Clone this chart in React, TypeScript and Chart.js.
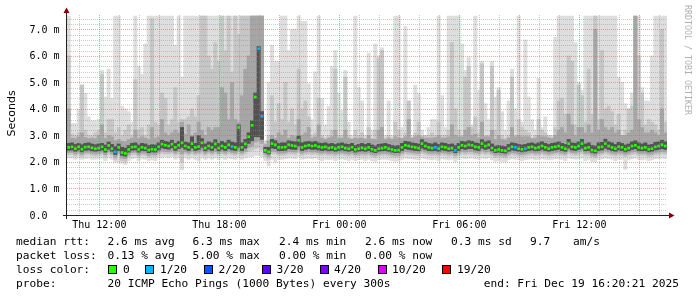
import React, { useEffect, useRef } from 'react';
import { Chart, registerables } from 'chart.js';

Chart.register(...registerables);

// ---- time axis (hours since Thu 00:00) ----
const START_HOUR = 10.383;
const SPAN_HOURS = 30;
const STEP_HOURS = 1 / 6; // one sample every 10 minutes
const Y_MAX = 7.54;

const xTickHours = [12, 18, 24, 30, 36];
const xTickLabels = ['Thu 12:00', 'Thu 18:00', 'Fri 00:00', 'Fri 06:00', 'Fri 12:00'];
const yTickValues = [0, 1, 2, 3, 4, 5, 6, 7];
const yTickLabels = ['0.0  ', '1.0 m', '2.0 m', '3.0 m', '4.0 m', '5.0 m', '6.0 m', '7.0 m'];

// ---- median rtt (ms) ----
const median = [
  2.55,2.57,2.5,2.57,2.48,2.56,2.57,2.53,2.5,2.52,2.57,2.47,2.62,2.5,2.38,2.55,2.35,2.32,2.47,2.56,2.57,2.47,2.55,2.52,2.45,2.48,2.47,2.57,2.67,2.63,2.6,2.67,2.55,2.63,2.72,2.6,
  2.55,2.69,2.55,2.58,2.72,2.52,2.6,2.55,2.68,2.52,2.6,2.55,2.65,2.58,2.55,3.3,2.55,2.68,2.95,3.38,4.45,6.27,3.72,2.44,2.38,2.69,2.65,2.55,2.55,2.56,2.65,2.62,2.6,2.82,2.55,2.6,
  2.63,2.6,2.62,2.57,2.55,2.57,2.52,2.55,2.5,2.55,2.57,2.52,2.5,2.55,2.47,2.5,2.53,2.5,2.55,2.48,2.44,2.5,2.52,2.55,2.5,2.47,2.44,2.45,2.55,2.63,2.6,2.57,2.55,2.52,2.69,2.6,
  2.55,2.52,2.55,2.5,2.57,2.55,2.5,2.52,2.44,2.55,2.63,2.6,2.65,2.63,2.57,2.55,2.69,2.6,2.65,2.52,2.44,2.47,2.44,2.42,2.5,2.57,2.55,2.5,2.48,2.5,2.55,2.57,2.52,2.55,2.6,2.55,
  2.5,2.55,2.57,2.6,2.55,2.5,2.69,2.57,2.55,2.6,2.69,2.52,2.55,2.45,2.42,2.55,2.57,2.69,2.6,2.55,2.5,2.57,2.55,2.48,2.52,2.6,2.63,2.55,2.52,2.55,2.48,2.5,2.57,2.6,2.65,2.6,
];

// samples with lost pings (index into median, lost count)
const lossIndex = [14, 49, 57, 58, 110, 116, 134, 137];
const lossCount = [1, 1, 1, 1, 1, 1, 1, 1];

// ---- smoke bands (ms) : outer (lightest) -> inner (darkest) ----
const smokeHi1 = [
  7.5,3.45,3.45,4.0,4.9,4.6,3.7,3.55,3.55,3.6,5.45,4.45,5.5,4.4,7.5,7.5,4.1,4.0,3.9,3.5,7.5,5.6,5.3,6.45,7.5,7.5,7.5,7.5,7.5,7.5,7.5,7.5,6.4,7.5,5.2,7.5,
  7.5,7.5,7.5,7.5,7.5,7.5,7.5,7.5,7.5,7.5,7.5,7.5,7.5,7.5,7.5,7.5,7.5,7.5,7.5,7.5,7.5,7.5,7.5,2.8,5.0,6.4,5.8,5.8,7.5,7.5,6.2,7.0,7.0,7.5,7.3,7.3,
  4.95,3.6,5.4,7.5,4.4,3.4,4.1,5.6,6.2,4.6,3.95,5.45,3.5,3.0,7.5,4.8,4.3,3.0,6.1,3.2,6.45,6.0,6.3,3.0,4.3,3.0,7.5,7.5,3.3,7.1,4.3,3.0,4.9,4.6,3.2,3.0,
  3.3,3.6,3.6,7.5,4.5,3.3,7.5,7.5,7.5,7.5,6.45,5.45,5.95,3.4,7.5,4.7,5.8,4.2,3.6,5.8,4.45,4.8,3.9,3.2,4.3,5.5,4.0,7.5,3.5,6.6,4.45,3.6,3.2,5.15,3.3,3.7,
  3.0,3.0,6.7,7.5,7.5,7.5,7.5,7.5,6.5,5.0,4.7,7.5,7.5,7.5,7.5,7.5,7.5,7.5,7.5,7.5,7.5,5.2,5.0,4.2,4.0,4.6,7.5,7.5,4.8,4.3,4.3,6.0,7.5,7.5,7.5,7.5,
];
const smokeLo1 = [
  2.15,2.15,2.1,2.15,2.1,2.12,2.15,2.1,2.1,2.12,2.15,2.05,2.15,2.1,2.0,1.98,1.95,1.9,2.05,2.12,2.15,2.05,2.12,2.1,2.05,2.08,2.05,2.15,2.15,2.2,2.15,2.2,2.1,2.15,1.7,2.15,
  2.1,2.15,2.1,2.05,2.15,2.1,2.15,2.1,2.15,2.1,2.15,2.1,2.15,2.12,2.1,2.15,2.1,2.15,2.2,2.2,2.25,2.25,2.2,2.05,1.85,2.1,2.0,2.1,2.1,2.12,2.15,2.15,2.12,2.2,2.1,2.12,
  2.15,2.12,2.15,2.1,2.05,2.1,2.08,2.1,2.05,2.1,2.12,2.08,2.05,2.1,2.05,2.08,2.1,2.05,2.1,2.05,2.02,2.08,2.1,2.1,2.08,2.05,2.02,2.05,2.1,2.15,2.12,2.12,2.1,2.08,2.15,2.12,
  2.1,2.08,2.1,2.05,2.12,2.1,2.08,2.1,2.02,2.1,2.15,2.12,2.15,2.15,2.12,2.1,2.15,2.12,2.15,2.08,2.02,2.05,2.02,2.0,2.08,2.12,2.1,2.08,2.05,2.08,2.1,2.12,2.08,2.1,2.12,2.1,
  2.08,2.1,2.12,2.12,2.1,2.05,2.15,2.12,2.1,2.12,2.15,2.05,2.1,2.02,2.0,2.1,2.12,2.15,2.12,2.1,2.05,2.1,2.1,1.72,2.08,2.12,2.15,2.1,2.08,2.1,2.05,2.08,2.12,2.12,2.15,2.12,
];
const smokeHi2 = [
  6.0,3.05,3.0,3.1,4.9,3.2,3.0,3.0,3.1,3.2,5.3,3.1,3.6,3.6,3.1,3.3,3.0,3.2,3.4,3.0,5.1,3.2,3.3,3.0,3.4,7.4,3.5,3.4,4.6,4.4,3.4,3.6,4.8,3.5,3.6,3.6,
  3.7,4.0,3.7,4.5,7.5,7.5,6.0,5.5,6.5,5.8,7.5,6.2,7.5,5.4,7.5,6.8,7.5,7.5,7.5,7.5,7.5,7.5,7.5,2.7,3.0,4.5,3.5,4.2,3.6,5.0,3.5,4.0,3.4,5.5,4.0,4.3,
  3.7,3.0,3.1,4.4,3.0,2.9,3.0,3.2,5.5,3.0,3.0,5.2,3.0,2.9,3.2,3.0,3.1,2.9,3.3,2.9,3.2,5.9,6.2,2.9,3.0,2.9,3.5,3.2,2.9,3.1,4.3,2.9,3.1,3.5,2.9,3.0,
  3.0,3.1,3.0,3.5,3.0,3.0,3.2,6.5,4.0,3.2,3.0,5.2,5.6,3.3,3.7,3.1,5.7,3.0,3.0,5.6,3.2,4.7,3.0,2.9,3.0,5.2,3.0,3.6,3.3,3.2,3.1,2.9,3.0,3.6,3.2,3.1,
  3.0,2.9,3.3,4.3,4.4,3.8,6.0,5.8,3.4,4.9,4.5,3.5,5.5,3.8,7.5,3.6,6.2,4.0,4.1,3.9,3.4,3.8,3.0,3.2,4.0,4.1,7.5,6.0,4.6,3.4,3.6,3.5,3.4,3.2,7.0,3.5,
];
const smokeLo2 = [
  2.27,2.28,2.22,2.28,2.2,2.27,2.28,2.24,2.22,2.24,2.28,2.19,2.3,2.22,2.08,2.25,2.05,2.02,2.18,2.27,2.28,2.18,2.25,2.24,2.17,2.2,2.19,2.28,2.33,2.3,2.3,2.33,2.25,2.3,2.0,2.3,
  2.25,2.3,2.25,2.28,2.3,2.24,2.3,2.25,2.3,2.24,2.3,2.25,2.3,2.27,2.25,2.3,2.25,2.3,2.4,2.45,2.5,2.55,2.45,2.2,2.1,2.3,2.3,2.25,2.25,2.26,2.3,2.3,2.28,2.35,2.25,2.28,
  2.3,2.28,2.3,2.27,2.25,2.27,2.24,2.25,2.22,2.25,2.27,2.24,2.22,2.25,2.19,2.22,2.24,2.22,2.25,2.2,2.17,2.22,2.24,2.25,2.22,2.19,2.17,2.18,2.25,2.3,2.28,2.27,2.25,2.24,2.32,2.28,
  2.25,2.24,2.25,2.22,2.27,2.25,2.22,2.24,2.17,2.25,2.3,2.28,2.3,2.3,2.27,2.25,2.32,2.28,2.3,2.24,2.17,2.19,2.17,2.15,2.22,2.27,2.25,2.22,2.2,2.22,2.25,2.27,2.24,2.25,2.28,2.25,
  2.22,2.25,2.27,2.28,2.25,2.22,2.32,2.27,2.25,2.28,2.32,2.24,2.25,2.18,2.15,2.25,2.27,2.32,2.28,2.25,2.22,2.27,2.25,2.2,2.24,2.28,2.3,2.25,2.24,2.25,2.2,2.22,2.27,2.28,2.3,2.28,
];
const smokeHi3 = [
  4.0,2.9,2.88,2.95,3.1,2.92,2.88,2.9,2.88,3.0,3.4,2.88,3.0,2.95,2.8,2.85,2.78,2.75,2.85,2.9,3.2,2.88,2.95,2.9,2.85,3.3,2.9,2.95,3.6,3.1,3.0,3.1,3.2,3.1,3.5,3.05,
  3.4,3.0,3.1,3.5,3.2,3.0,3.3,3.2,3.3,3.3,4.8,4.6,3.6,5.0,3.6,3.5,4.5,5.5,6.0,7.5,7.5,7.5,7.5,2.65,2.8,3.0,2.9,3.1,3.0,3.2,2.9,3.0,2.95,3.6,3.0,3.1,
  3.3,2.9,2.95,3.4,2.9,2.85,2.9,2.95,3.2,2.88,2.9,3.2,2.88,2.85,2.9,2.88,2.9,2.85,3.0,2.85,2.85,3.2,3.3,2.85,2.9,2.85,2.95,2.9,2.88,2.95,3.6,2.9,2.95,3.0,2.95,2.9,
  2.9,2.9,2.92,3.0,2.9,2.9,2.95,3.4,3.0,2.95,2.95,3.2,3.3,3.0,3.05,2.9,3.5,2.95,2.95,3.2,2.85,3.0,2.85,2.82,2.9,3.3,2.95,3.0,2.95,2.95,2.95,2.88,2.9,3.0,2.95,2.95,
  2.9,2.9,3.0,3.2,3.3,3.1,3.8,3.4,3.0,3.3,3.3,3.1,3.4,3.1,7.0,3.2,3.6,3.3,3.2,3.3,3.1,3.2,3.0,3.0,3.1,3.2,7.5,3.6,3.3,3.1,3.1,3.2,3.1,3.0,4.0,3.1,
];
const smokeLo3 = [
  2.35,2.36,2.3,2.36,2.28,2.35,2.36,2.32,2.3,2.32,2.36,2.27,2.38,2.3,2.18,2.33,2.15,2.12,2.27,2.35,2.36,2.27,2.33,2.32,2.25,2.28,2.27,2.36,2.42,2.4,2.38,2.42,2.33,2.4,2.3,2.38,
  2.33,2.4,2.33,2.36,2.42,2.32,2.38,2.33,2.4,2.32,2.38,2.33,2.4,2.35,2.33,2.4,2.33,2.4,2.55,2.6,2.75,2.8,2.7,2.28,2.2,2.4,2.4,2.33,2.33,2.34,2.4,2.38,2.37,2.45,2.33,2.37,
  2.4,2.37,2.38,2.35,2.33,2.35,2.32,2.33,2.3,2.33,2.35,2.32,2.3,2.33,2.27,2.3,2.32,2.3,2.33,2.28,2.25,2.3,2.32,2.33,2.3,2.27,2.25,2.26,2.33,2.4,2.37,2.35,2.33,2.32,2.42,2.37,
  2.33,2.32,2.33,2.3,2.35,2.33,2.3,2.32,2.25,2.33,2.4,2.37,2.4,2.4,2.35,2.33,2.42,2.37,2.4,2.32,2.25,2.27,2.25,2.23,2.3,2.35,2.33,2.3,2.28,2.3,2.33,2.35,2.32,2.33,2.37,2.33,
  2.3,2.33,2.35,2.37,2.33,2.3,2.42,2.35,2.33,2.37,2.42,2.32,2.33,2.26,2.23,2.33,2.35,2.42,2.37,2.33,2.3,2.35,2.33,2.28,2.32,2.37,2.4,2.33,2.32,2.33,2.28,2.3,2.35,2.37,2.4,2.37,
];
const smokeHi4 = [
  2.7,2.72,2.66,2.7,2.65,2.7,2.72,2.68,2.65,2.68,2.7,2.64,2.75,2.66,2.58,2.68,2.55,2.52,2.62,2.7,2.72,2.64,2.7,2.68,2.62,2.65,2.64,2.72,2.82,2.78,2.75,2.82,2.7,2.78,3.3,2.75,
  2.72,2.95,2.7,3.0,2.88,2.68,2.76,2.72,2.84,2.7,2.78,2.72,2.82,2.75,2.72,3.4,2.72,2.85,3.1,3.55,4.6,6.35,3.9,2.55,2.55,2.85,2.8,2.7,2.72,2.72,2.8,2.78,2.76,2.98,2.72,2.76,
  2.78,2.75,2.78,2.72,2.7,2.72,2.68,2.7,2.66,2.7,2.72,2.68,2.66,2.7,2.62,2.66,2.7,2.66,2.7,2.64,2.6,2.66,2.68,2.7,2.66,2.62,2.6,2.62,2.7,2.78,2.76,2.72,2.7,2.68,2.84,2.75,
  2.7,2.68,2.72,2.66,2.72,2.7,2.66,2.68,2.62,2.7,2.78,2.76,2.8,2.78,2.72,2.7,2.84,2.76,2.8,2.68,2.6,2.62,2.6,2.58,2.66,2.72,2.7,2.66,2.64,2.66,2.7,2.72,2.68,2.72,2.76,2.7,
  2.66,2.7,2.72,2.76,2.7,2.66,2.85,2.72,2.7,2.76,2.85,2.68,2.72,2.62,2.6,2.72,2.74,2.86,2.76,2.72,2.66,2.74,2.7,2.64,2.68,2.76,2.8,2.72,2.68,2.72,2.64,2.66,2.74,2.76,2.82,2.76,
];
const smokeLo4 = [
  2.44,2.45,2.4,2.45,2.38,2.44,2.45,2.42,2.4,2.42,2.45,2.37,2.48,2.4,2.28,2.43,2.25,2.22,2.37,2.44,2.45,2.37,2.43,2.42,2.35,2.38,2.37,2.45,2.53,2.5,2.48,2.53,2.43,2.5,2.55,2.48,
  2.43,2.52,2.43,2.46,2.55,2.42,2.48,2.43,2.52,2.42,2.48,2.43,2.5,2.45,2.43,2.55,2.43,2.52,2.7,2.8,2.95,2.95,2.85,2.36,2.3,2.52,2.5,2.43,2.43,2.44,2.5,2.48,2.47,2.6,2.43,2.47,
  2.5,2.47,2.48,2.45,2.43,2.45,2.42,2.43,2.4,2.43,2.45,2.42,2.4,2.43,2.37,2.4,2.42,2.4,2.43,2.38,2.35,2.4,2.42,2.43,2.4,2.37,2.35,2.36,2.43,2.5,2.47,2.45,2.43,2.42,2.52,2.47,
  2.43,2.42,2.43,2.4,2.45,2.43,2.4,2.42,2.35,2.43,2.5,2.47,2.5,2.5,2.45,2.43,2.52,2.47,2.5,2.42,2.35,2.37,2.35,2.33,2.4,2.45,2.43,2.4,2.38,2.4,2.43,2.45,2.42,2.43,2.47,2.43,
  2.4,2.43,2.45,2.47,2.43,2.4,2.52,2.45,2.43,2.47,2.52,2.42,2.43,2.36,2.33,2.43,2.45,2.52,2.47,2.43,2.4,2.45,2.43,2.38,2.42,2.47,2.5,2.43,2.42,2.43,2.38,2.4,2.45,2.47,2.5,2.47,
];

const smokeColors = ['#dedede', '#c6c6c6', '#a6a6a6', '#525252'];

// ---- legend ----
const lossLabels = ['0', '1/20', '2/20', '3/20', '4/20', '10/20', '19/20'];
const lossColors = ['#26ff00', '#00b8ff', '#0059ff', '#5e00ff', '#7e00ff', '#dd00ff', '#ff0000'];
const rttStats = ['2.6 ms avg', '6.3 ms max', '2.4 ms min', '2.6 ms now', '0.3 ms sd', '9.7', 'am/s'];
const lossStats = ['0.13 % avg', '5.00 % max', '0.00 % min', '0.00 % now'];
const probeText = '20 ICMP Echo Pings (1000 Bytes) every 300s';
const endText = 'end: Fri Dec 19 16:20:21 2025';

const MONO = '"DejaVu Sans Mono", monospace';

const decorPlugin = {
  id: 'smokeDecor',
  afterDatasetsDraw(chart: any) {
    const { ctx, chartArea: a, scales } = chart;
    const x = scales.x;
    const y = scales.y;
    ctx.save();
    ctx.lineWidth = 1;
    ctx.setLineDash([1, 1]);
    // horizontal grid every 0.2 ms, major every 1 ms
    for (let k = 1; k * 0.2 < Y_MAX; k++) {
      const py = Math.round(y.getPixelForValue(k * 0.2)) + 0.5;
      ctx.strokeStyle = k % 5 === 0 ? 'rgba(215,95,95,0.55)' : 'rgba(140,140,140,0.45)';
      ctx.beginPath();
      ctx.moveTo(a.left, py);
      ctx.lineTo(a.right, py);
      ctx.stroke();
    }
    // vertical grid every hour, major every 3 hours
    for (let h = Math.ceil(START_HOUR); h < START_HOUR + SPAN_HOURS; h++) {
      const px = Math.round(x.getPixelForValue(h)) + 0.5;
      ctx.strokeStyle = h % 3 === 0 ? 'rgba(215,95,95,0.55)' : 'rgba(140,140,140,0.45)';
      ctx.beginPath();
      ctx.moveTo(px, a.top);
      ctx.lineTo(px, a.bottom);
      ctx.stroke();
    }
    ctx.setLineDash([]);
    // axes
    ctx.strokeStyle = '#222';
    ctx.beginPath();
    ctx.moveTo(a.left - 4, a.bottom + 0.5);
    ctx.lineTo(a.right + 4, a.bottom + 0.5);
    ctx.moveTo(a.left - 0.5, a.bottom + 4);
    ctx.lineTo(a.left - 0.5, a.top - 4);
    ctx.stroke();
    // arrows
    ctx.fillStyle = '#7f0000';
    ctx.beginPath();
    ctx.moveTo(a.right + 2, a.bottom - 2.5);
    ctx.lineTo(a.right + 2, a.bottom + 3.5);
    ctx.lineTo(a.right + 7.5, a.bottom + 0.5);
    ctx.closePath();
    ctx.fill();
    ctx.beginPath();
    ctx.moveTo(a.left - 3.5, a.top - 2);
    ctx.lineTo(a.left + 2.5, a.top - 2);
    ctx.lineTo(a.left - 0.5, a.top - 7.5);
    ctx.closePath();
    ctx.fill();
    ctx.restore();
  },
  afterDraw(chart: any) {
    const { ctx, chartArea: a, scales } = chart;
    const x = scales.x;
    const y = scales.y;
    ctx.save();
    ctx.fillStyle = '#000';
    ctx.textBaseline = 'alphabetic';
    // axis labels
    ctx.font = `10px ${MONO}`;
    ctx.textAlign = 'center';
    xTickHours.forEach((h, i) => ctx.fillText(xTickLabels[i], x.getPixelForValue(h), a.bottom + 13));
    ctx.textAlign = 'right';
    yTickValues.forEach((v, i) => ctx.fillText(yTickLabels[i], a.left - 7.5, y.getPixelForValue(v) + 3.5));
    // y title
    ctx.save();
    ctx.font = '11px "DejaVu Sans", sans-serif';
    ctx.textAlign = 'center';
    ctx.translate(15, 113.5);
    ctx.rotate(-Math.PI / 2);
    ctx.fillText('Seconds', 0, 0);
    ctx.restore();
    // watermark
    ctx.save();
    ctx.font = `8.3px ${MONO}`;
    ctx.fillStyle = '#b0b0b0';
    ctx.textAlign = 'left';
    ctx.translate(685, 5);
    ctx.rotate(Math.PI / 2);
    ctx.fillText('RRDTOOL / TOBI OETIKER', 0, 0);
    ctx.restore();
    // legend
    ctx.font = `11.2px ${MONO}`;
    ctx.textAlign = 'left';
    const rows = [245, 259, 273, 287];
    ctx.fillText('median rtt:', 16, rows[0]);
    const rttX = [107.5, 192.5, 279, 365, 451, 530, 573];
    rttStats.forEach((s, i) => ctx.fillText(s, rttX[i], rows[0]));
    ctx.fillText('packet loss:', 16, rows[1]);
    const lossX = [107.5, 192.5, 279, 365];
    lossStats.forEach((s, i) => ctx.fillText(s, lossX[i], rows[1]));
    ctx.fillText('loss color:', 16, rows[2]);
    const boxX = [108, 145, 204, 262, 320, 378, 442];
    const labX = [123, 160, 218.5, 276.5, 334, 392, 457];
    lossLabels.forEach((s, i) => {
      ctx.fillStyle = '#000';
      ctx.fillRect(boxX[i], 265, 9, 9);
      ctx.fillStyle = lossColors[i];
      ctx.fillRect(boxX[i] + 1, 266, 7, 7);
      ctx.fillStyle = '#000';
      ctx.fillText(s, labX[i], rows[2]);
    });
    ctx.fillText('probe:', 16, rows[3]);
    ctx.fillText(probeText, 107.5, rows[3]);
    ctx.textAlign = 'right';
    ctx.fillText(endText, 679, rows[3]);
    ctx.restore();
  },
};

export default function App() {
  const ref = useRef<HTMLCanvasElement | null>(null);
  useEffect(() => {
    if (!ref.current) return;
    const times = median.map((_, i) => START_HOUR + (i + 0.5) * STEP_HOURS);
    const band = (lo: number[], hi: number[], color: string, order: number) => ({
      type: 'bar' as const,
      data: times.map((t, i) => ({ x: t, y: [lo[i], hi[i]] })),
      backgroundColor: color,
      borderWidth: 0,
      barPercentage: 1,
      categoryPercentage: 1,
      grouped: false,
      order,
    });
    const pointColors = median.map((_, i) => {
      const k = lossIndex.indexOf(i);
      const lost = k >= 0 ? lossCount[k] : 0;
      return lossColors[lost];
    });
    const chart = new Chart(ref.current, {
      type: 'bar',
      data: {
        datasets: [
          band(smokeLo1, smokeHi1, smokeColors[0], 4),
          band(smokeLo2, smokeHi2, smokeColors[1], 3),
          band(smokeLo3, smokeHi3, smokeColors[2], 2),
          band(smokeLo4, smokeHi4, smokeColors[3], 1),
          {
            type: 'line' as const,
            data: times.map((t, i) => ({ x: t, y: median[i] })),
            showLine: false,
            pointStyle: 'rect',
            pointRadius: 1.9,
            pointBorderWidth: 0,
            pointBackgroundColor: pointColors,
            order: 0,
          } as any,
        ] as any,
      },
      options: {
        animation: false,
        responsive: false,
        devicePixelRatio: 1,
        events: [],
        layout: { padding: { left: 67, right: 30, top: 15, bottom: 82 } },
        plugins: { legend: { display: false }, tooltip: { enabled: false } },
        scales: {
          x: { type: 'linear', display: false, min: START_HOUR, max: START_HOUR + SPAN_HOURS, offset: false },
          y: { type: 'linear', display: false, min: 0, max: Y_MAX },
        },
      } as any,
      plugins: [decorPlugin],
    });
    return () => chart.destroy();
  }, []);
  return (
    <div style={{ position: 'absolute', left: 0, top: 0, width: 697, height: 297, background: '#fff' }}>
      <canvas ref={ref} width={697} height={297} style={{ display: 'block' }} />
    </div>
  );
}
